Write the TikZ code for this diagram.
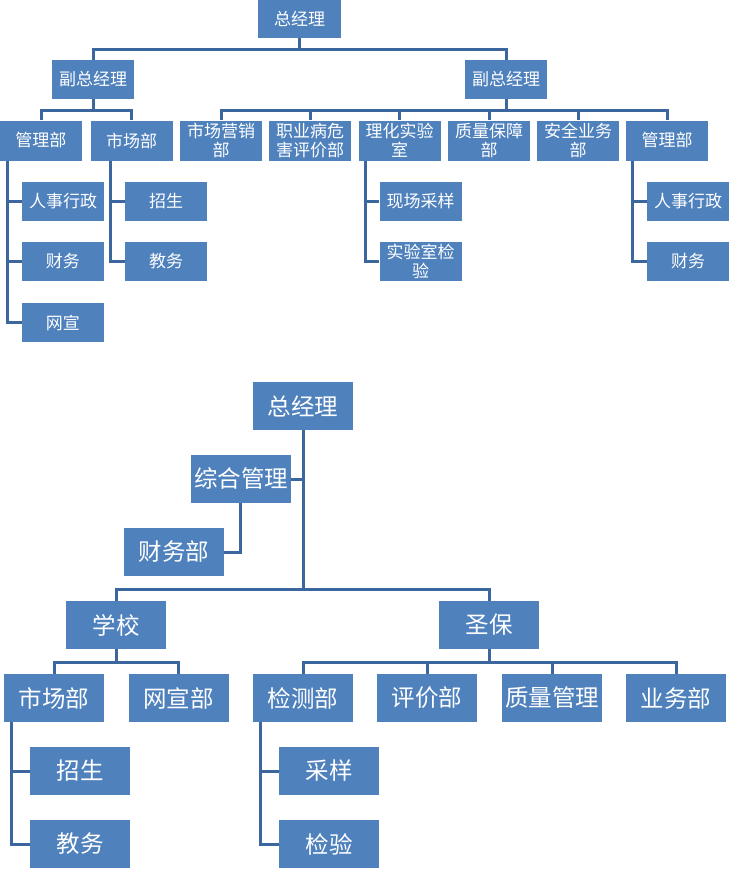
\documentclass[tikz,border=0pt]{standalone}
\usepackage{fontspec}
\setmainfont{Noto Sans CJK SC}
\definecolor{boxblue}{RGB}{79,129,189}
\definecolor{lineblue}{RGB}{60,103,158}
\tikzset{
  box/.style={rectangle, fill=boxblue, text=white, inner sep=0pt, align=center},
  small/.style={box, minimum width=82pt, minimum height=39pt, text width=80pt,
    font=\fontsize{17}{19}\selectfont},
  big/.style={box, minimum width=100pt, minimum height=48pt, text width=98pt,
    font=\fontsize{23.5}{27}\selectfont},
  link/.style={draw=lineblue, line width=3pt}
}
\begin{document}
\begin{tikzpicture}[x=1pt, y=-1pt]
                \useasboundingbox (0,0) rectangle (729,889);

                % Upper chart: top levels
                \node[small, minimum width=83pt, minimum height=38pt] (zjl) at (299.5,19) {总经理};
                \node[small] (fz1) at (93,79.5) {副总经理};
                \node[small] (fz2) at (506,79.5) {副总经理};

                % Departments
                \node[small, minimum height=40pt] (glb1) at (41,140.5) {管理部};
                \node[small, minimum height=40pt] (scb1) at (131.5,140.5) {市场部};
                \node[small, minimum height=40pt] (yx) at (221,140.5) {市场营销\\部};
                \node[small, minimum height=40pt] (zyb) at (310,140.5) {职业病危\\害评价部};
                \node[small, minimum height=40pt] (lh) at (399.5,140.5) {理化实验\\室};
                \node[small, minimum height=40pt] (zl) at (489,140.5) {质量保障\\部};
                \node[small, minimum height=40pt] (aq) at (578,140.5) {安全业务\\部};
                \node[small, minimum height=40pt] (glb2) at (667,140.5) {管理部};

                % Sections
                \node[small] (rs1) at (63,201.5) {人事行政};
                \node[small] (cw1) at (63,261.5) {财务};
                \node[small] (wx) at (63,322.5) {网宣};
                \node[small] (zs1) at (166,201.5) {招生};
                \node[small] (jw1) at (166,261.5) {教务};
                \node[small] (xc) at (420.5,201.5) {现场采样};
                \node[small] (sy) at (420.5,261.5) {实验室检\\验};
                \node[small] (rs2) at (688,201.5) {人事行政};
                \node[small] (cw2) at (688,261.5) {财务};

                % Upper chart links
                \draw[link] (zjl.south) -- ++(0,11) -| (fz1.north);
                \draw[link] (zjl.south) ++(0,11) -| (fz2.north);
                \draw[link] (fz1.south) -- ++(0,11) -| (glb1.north);
                \draw[link] (fz1.south) ++(0,11) -| (scb1.north);
                \foreach \d in {yx,zyb,lh,zl,aq,glb2}
                    \draw[link] (fz2.south) ++(0,11) -| (\d.north);
                \draw[link] (fz2.south) -- ++(0,11);
                \foreach \s in {rs1,cw1,wx}
                    \draw[link] (glb1.south west) ++(8,0) |- (\s.west);
                \foreach \s in {zs1,jw1}
                    \draw[link] (scb1.south west) ++(20,0) |- (\s.west);
                \foreach \s in {xc,sy}
                    \draw[link] (lh.south west) ++(7,0) |- (\s.west);
                \foreach \s in {rs2,cw2}
                    \draw[link] (glb2.south west) ++(7,0) |- (\s.west);

                % Lower chart
                \node[big] (zjlB) at (303,406) {总经理};
                \node[big] (zh) at (241,479) {综合管理};
                \node[big] (cwb) at (174,552) {财务部};
                \node[big] (xx) at (116,625) {学校};
                \node[big] (sb) at (489,625) {圣保};
                \node[big] (scb2) at (54,698) {市场部};
                \node[big] (wxb) at (178.5,698) {网宣部};
                \node[big] (zs2) at (80,771) {招生};
                \node[big] (jw2) at (80,844) {教务};
                \node[big] (jcb) at (303,698) {检测部};
                \node[big] (pjb) at (427,698) {评价部};
                \node[big] (zlgl) at (552,698) {质量管理};
                \node[big] (ywb) at (676,698) {业务部};
                \node[big] (cy) at (329,771) {采样};
                \node[big] (jy) at (329,844) {检验};

                % Lower chart links
                \draw[link] (zjlB.south) -- ++(0,159) -| (xx.north);
                \draw[link] (zjlB.south) ++(0,159) -| (sb.north);
                \draw[link] (zh.east) -- (zh.east -| zjlB.south);
                \draw[link] (zh.south) ++(-1,0) |- (cwb.east);
                \draw[link] (xx.south) -- ++(0,13) -| (scb2.north);
                \draw[link] (xx.south) ++(0,13) -| (wxb.north);
                \foreach \d in {jcb,pjb,zlgl,ywb}
                    \draw[link] (sb.south) ++(0,13) -| (\d.north);
                \draw[link] (sb.south) -- ++(0,13);
                \foreach \s in {zs2,jw2}
                    \draw[link] (scb2.south west) ++(8,0) |- (\s.west);
                \foreach \s in {cy,jy}
                    \draw[link] (jcb.south west) ++(8,0) |- (\s.west);

            \end{tikzpicture}
\end{document}
